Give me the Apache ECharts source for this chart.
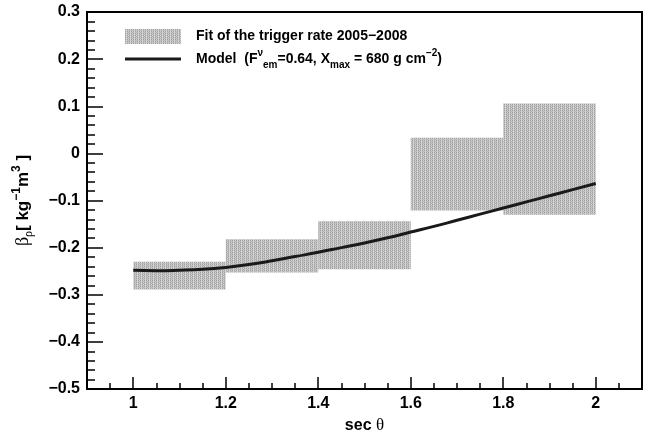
<!DOCTYPE html>
<html><head><meta charset="utf-8">
<script src="https://cdn.jsdelivr.net/npm/echarts@6/dist/echarts.min.js"></script>
<style>html,body{margin:0;padding:0;background:#fff}#c{width:652px;height:434px}</style>
</head><body><div id="c"></div>
<script>
// ---- data ----
const binLow  = [1.0, 1.2, 1.4, 1.6, 1.8];
const binHigh = [1.2, 1.4, 1.6, 1.8, 2.0];
const fitLow  = [-0.289, -0.253, -0.246, -0.121, -0.130];
const fitHigh = [-0.230, -0.182, -0.144, 0.033, 0.106];
const modelX = [1.00, 1.05, 1.10, 1.15, 1.20, 1.25, 1.30, 1.35, 1.40, 1.45, 1.50,
                1.55, 1.60, 1.65, 1.70, 1.75, 1.80, 1.85, 1.90, 1.95, 2.00];
const modelY = [-0.248, -0.249, -0.248, -0.246, -0.242, -0.236, -0.228, -0.219, -0.210, -0.200, -0.190,
                -0.179, -0.167, -0.155, -0.142, -0.129, -0.116, -0.103, -0.090, -0.077, -0.064];
const xTickValues = [1, 1.2, 1.4, 1.6, 1.8, 2];
const fitName = 'Fit of the trigger rate 2005\u22122008';
const modelName = 'Model (F\u03bd em=0.64, X max = 680 g cm\u22122)';

// ---- styles ----
const pc = document.createElement('canvas'); pc.width = 4; pc.height = 4;
const g = pc.getContext('2d');
for (let y = 0; y < 4; y++) for (let x = 0; x < 4; x++) {
  let c;
  if (x % 2 === 0) c = (y % 2 === 0) ? '#a2a2a2' : '#bcbcbc';
  else c = (x === 3 && y % 2 === 1) ? '#b4b4b4' : '#d2d2d2';
  g.fillStyle = c; g.fillRect(x, y, 1, 1);
}
const pattern = { image: pc, repeat: 'repeat' };

const SANS = 'Liberation Sans';
const SERIF = 'Liberation Serif';
const boxData = binLow.map((v, i) => [v, binHigh[i], fitLow[i], fitHigh[i]]);
const lineData = modelX.map((v, i) => [v, modelY[i]]);

const fmtY = v => { const r = Math.round(v * 10) / 10; if (r === 0) return '0'; return (r < 0 ? '\u2212' : '') + Math.abs(r).toFixed(1); };
const fmtX = v => String(+v.toFixed(1));

const chart = echarts.init(document.getElementById('c'), null, { renderer: 'canvas' });
chart.setOption({
  animation: false,
  backgroundColor: '#fff',
  grid: { left: 87, right: 10, top: 12, bottom: 45, show: true, borderColor: '#000', borderWidth: 2,
          containLabel: false, outerBoundsMode: 'none' },
  legend: [{
    data: [{ name: fitName, icon: 'rect' }],
    left: 125, top: 29, padding: 0, itemWidth: 56, itemHeight: 15, selectedMode: false,
    textStyle: { color: '#000', fontFamily: SANS, fontWeight: 'bold', fontSize: 14, padding: [0, 0, 0, 10] }
  }, {
    data: [{ name: modelName, icon: 'rect' }],
    left: 125, top: 48, padding: 0, itemWidth: 56, itemHeight: 3, selectedMode: false,
    formatter: () => 'Model  (F{sup|\u03bd}{sub|em}=0.64, X{sub|max} = 680 g cm{sup|\u22122})',
    textStyle: { color: '#000', fontFamily: SANS, fontWeight: 'bold', fontSize: 14, lineHeight: 22, padding: [0, 0, 0, 10],
      rich: {
        sup: { fontSize: 10, fontFamily: SANS, fontWeight: 'bold', verticalAlign: 'top', lineHeight: 22, color: '#000' },
        sub: { fontSize: 10, fontFamily: SANS, fontWeight: 'bold', verticalAlign: 'bottom', lineHeight: 22, color: '#000' }
      } }
  }],
  xAxis: [{
    type: 'value', min: 0.9, max: 2.1, position: 'bottom',
    axisLine: { show: true, onZero: false, lineStyle: { color: '#000', width: 2 } },
    axisTick: { show: true, inside: true, length: 12, customValues: xTickValues, lineStyle: { color: '#000', width: 1.5 } },
    axisLabel: { customValues: xTickValues, formatter: fmtX, color: '#000', fontFamily: SANS, fontWeight: 'bold', fontSize: 16, margin: 7 },
    splitLine: { show: false },
    name: 'sec {t|\u03b8}', nameLocation: 'middle', nameGap: 28,
    nameTextStyle: { color: '#000', fontFamily: SANS, fontWeight: 'bold', fontSize: 16,
      rich: { t: { fontFamily: SERIF, fontWeight: 'normal', fontSize: 17, color: '#000' } } }
  }, {
    type: 'value', min: 0.9, max: 2.1, interval: 0.05, position: 'bottom',
    axisLine: { show: false, onZero: false },
    axisTick: { show: true, inside: true, length: 6, lineStyle: { color: '#000', width: 1.5 } },
    axisLabel: { show: false }, splitLine: { show: false }
  }],
  yAxis: {
    type: 'value', min: -0.5, max: 0.3, interval: 0.1,
    axisLine: { show: true, onZero: false, lineStyle: { color: '#000', width: 2 } },
    axisTick: { show: true, inside: true, length: 16, lineStyle: { color: '#000', width: 1.5 } },
    minorTick: { show: true, splitNumber: 5, length: 8, lineStyle: { color: '#000', width: 1.5 } },
    axisLabel: { formatter: fmtY, color: '#000', fontFamily: SANS, fontWeight: 'bold', fontSize: 16, margin: 7 },
    splitLine: { show: false }, minorSplitLine: { show: false },
    name: '{g|\u03b2}{gs|\u03c1}[ kg{sup|\u22121}m{sup|3} ]', nameLocation: 'middle', nameGap: 52, nameRotate: 90,
    nameTextStyle: { color: '#000', fontFamily: SANS, fontWeight: 'bold', fontSize: 17, lineHeight: 24,
      rich: {
        g: { fontFamily: SERIF, fontWeight: 'normal', fontSize: 18, color: '#000', lineHeight: 24 },
        gs: { fontFamily: SERIF, fontWeight: 'normal', fontSize: 12, color: '#000', verticalAlign: 'bottom', lineHeight: 24 },
        sup: { fontFamily: SANS, fontWeight: 'bold', fontSize: 12, color: '#000', verticalAlign: 'top', lineHeight: 24 }
      } }
  },
  series: [{
    name: fitName, type: 'custom', xAxisIndex: 0, yAxisIndex: 0,
    itemStyle: { color: pattern },
    encode: { x: [0, 1], y: [2, 3] },
    data: boxData,
    renderItem: (params, api) => {
      const p0 = api.coord([api.value(0), api.value(3)]);
      const p1 = api.coord([api.value(1), api.value(2)]);
      return { type: 'rect', shape: { x: p0[0], y: p0[1], width: p1[0] - p0[0], height: p1[1] - p0[1] },
               style: { fill: pattern } };
    },
    z: 1
  }, {
    name: modelName, type: 'line', xAxisIndex: 0, yAxisIndex: 0,
    data: lineData, smooth: true, symbol: 'none', showSymbol: false,
    lineStyle: { color: '#1a1a1a', width: 3 }, itemStyle: { color: '#1a1a1a' },
    z: 3
  }]
});
</script></body></html>
